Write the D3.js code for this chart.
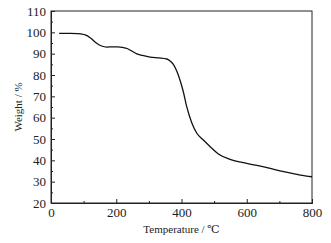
<!DOCTYPE html>
<html>
<head>
<meta charset="utf-8">
<script src="https://cdn.jsdelivr.net/npm/d3@7"></script>
<style>
  body { margin: 0; background: #fff; }
  text { font-family: "Liberation Serif", "DejaVu Serif", serif; fill: #222; }
</style>
</head>
<body>
<div id="chart"></div>
<script>
// TGA curve
const temperature = [25, 60, 80, 95, 105, 120, 140, 155, 171, 190, 205, 220, 235, 250, 263, 280, 304, 330, 355, 365, 375, 386, 395, 405, 416, 432, 447, 467, 488, 513, 549, 600, 662, 713, 764, 800];
const weight = [99.5, 99.5, 99.4, 99.2, 98.8, 97.5, 94.9, 93.6, 93.1, 93.2, 93.2, 92.9, 92.3, 91.0, 89.9, 89.2, 88.4, 88.0, 87.5, 86.6, 85.0, 81.6, 77.8, 72.5, 65.2, 57.4, 52.7, 49.5, 46.4, 43.0, 40.5, 38.6, 36.6, 34.7, 33.1, 32.3];
const xTicks = [0, 200, 400, 600, 800];
const yTicks = [20, 30, 40, 50, 60, 70, 80, 90, 100, 110];

const margin = { top: 11, right: 19, bottom: 40, left: 51 };
const width = 331 - margin.left - margin.right;
const height = 243 - margin.top - margin.bottom;

const svg = d3.select("#chart")
    .append("svg")
    .attr("width", 331)
    .attr("height", 243)
    .append("g")
    .attr("transform", `translate(${margin.left},${margin.top})`);

const x = d3.scaleLinear().domain([0, 800]).range([0, width]);
const y = d3.scaleLinear().domain([20, 110]).range([height, 0]);

// frame
svg.append("rect")
    .attr("width", width)
    .attr("height", height)
    .attr("fill", "none")
    .attr("stroke", "#222")
    .attr("stroke-width", 1);

// bottom axis, ticks inside
svg.append("g")
    .attr("transform", `translate(0,${height})`)
    .call(d3.axisBottom(x).tickValues(xTicks).tickSizeInner(-4).tickSizeOuter(0).tickPadding(5));
svg.append("g")
    .attr("transform", `translate(0,${height})`)
    .call(d3.axisBottom(x).tickValues([100, 300, 500, 700]).tickSize(-2).tickFormat(""));

// left axis, ticks inside
svg.append("g")
    .call(d3.axisLeft(y).tickValues(yTicks).tickSizeInner(-4).tickSizeOuter(0).tickPadding(5));
svg.append("g")
    .call(d3.axisLeft(y).tickValues(d3.range(25, 110, 10)).tickSize(-2).tickFormat(""));

svg.selectAll(".domain").attr("stroke", "#222");
svg.selectAll(".tick line").attr("stroke", "#222");
svg.selectAll(".tick text")
    .style("font-family", "Liberation Serif, serif")
    .style("font-size", "13px")
    .attr("fill", "#222");

// curve
const points = temperature.map((t, i) => ({ t, w: weight[i] }));
svg.append("path")
    .datum(points)
    .attr("fill", "none")
    .attr("stroke", "#111")
    .attr("stroke-width", 1.3)
    .attr("d", d3.line().x(d => x(d.t)).y(d => y(d.w)).curve(d3.curveMonotoneX));

// axis titles
svg.append("text")
    .attr("x", width / 2)
    .attr("y", height + 30)
    .attr("text-anchor", "middle")
    .style("font-size", "11px")
    .text("Temperature / ℃");

svg.append("text")
    .attr("transform", "rotate(-90)")
    .attr("x", -height / 2)
    .attr("y", -margin.left + 22)
    .attr("text-anchor", "middle")
    .style("font-size", "11px")
    .text("Weight / %");
</script>
</body>
</html>
